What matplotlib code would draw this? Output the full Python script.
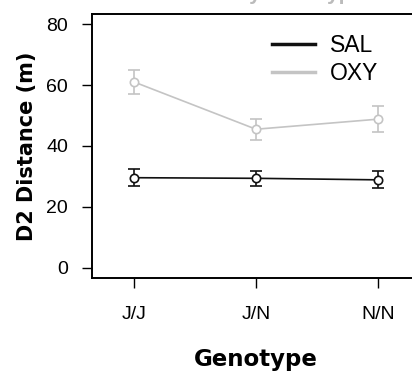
"""D2 distance by genotype, SAL vs OXY."""
import matplotlib
matplotlib.use('Agg')
import matplotlib.pyplot as plt

plt.rcParams['font.family'] = ['Liberation Sans', 'DejaVu Sans']

genotypes = ['J/J', 'J/N', 'N/N']
sal_mean = [29.6, 29.4, 28.9]
sal_err = [2.8, 2.5, 2.8]
oxy_mean = [61.0, 45.5, 48.8]
oxy_err = [3.8, 3.5, 4.3]

OXY_COLOR = '#c4c4c4'
SAL_COLOR = '#111111'

fig = plt.figure(figsize=(4.12, 3.73), dpi=100)
ax = fig.add_axes([92 / 412, 1 - 278 / 373, 328 / 412, 264 / 373])

x = list(range(1, len(genotypes) + 1))

for means, errs, color in [
    (oxy_mean, oxy_err, OXY_COLOR),
    (sal_mean, sal_err, SAL_COLOR),
]:
    ax.plot(x, means, color=color, lw=1.2, zorder=1)
    ax.errorbar(
        x, means, yerr=errs, fmt='o', color=color, mfc='white', mec=color,
        ms=6, mew=1.2, ecolor=color, elinewidth=1.2, capsize=4, capthick=1.2,
        zorder=2,
    )

# legend drawn as plain lines, as in base R
h_sal, = ax.plot([], [], color=SAL_COLOR, lw=2.5, label='SAL')
h_oxy, = ax.plot([], [], color=OXY_COLOR, lw=2.5, label='OXY')
ax.legend(
    handles=[h_sal, h_oxy], loc='upper left', bbox_to_anchor=(0.549, 0.924),
    frameon=False, fontsize=16.5, handlelength=1.88, handletextpad=0.65,
    labelspacing=0.2, borderaxespad=0, borderpad=0,
)

ax.set_xlim(0.655, 3.345)
ax.set_ylim(-3.3, 83.3)
ax.set_xticks(x)
ax.set_xticklabels(genotypes, fontsize=14)
ax.set_yticks([0, 20, 40, 60, 80])
ax.tick_params(axis='y', labelsize=14, length=7.2, width=1, pad=10)
ax.tick_params(axis='x', length=7.2, width=1, pad=13)
for side in ['left', 'bottom', 'top']:
    ax.spines[side].set_linewidth(1.4)
ax.spines['right'].set_visible(False)

ax.set_ylabel('D2 Distance (m)', fontsize=15, fontweight='bold',
              family='DejaVu Sans', labelpad=7)
ax.set_xlabel('Genotype', fontsize=16.5, fontweight='bold',
              family='DejaVu Sans', labelpad=18)

fig.text(0.575, 1.015, 'D2 Distance by Genotype', ha='center', va='center',
         fontsize=15, fontweight='bold', color='#bbbbbb')

fig.savefig('out.png', dpi=100)
